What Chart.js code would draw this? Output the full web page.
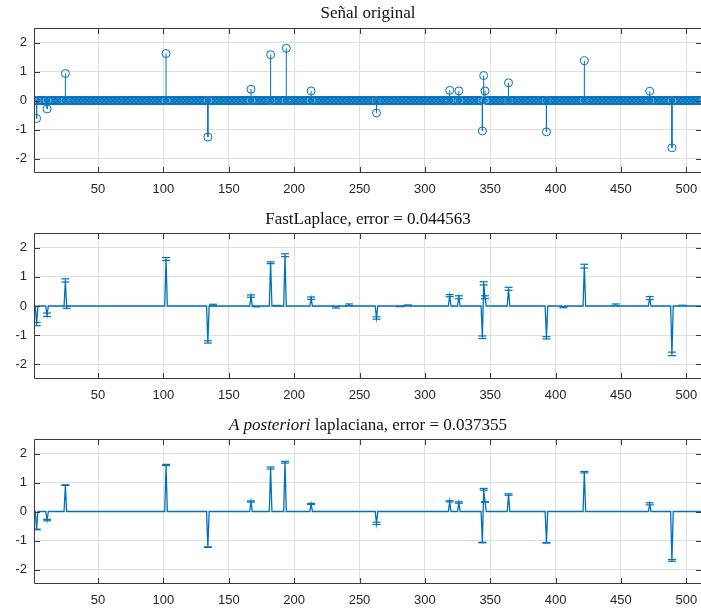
<!DOCTYPE html>
<html><head><meta charset="utf-8">
<script src="https://cdn.jsdelivr.net/npm/chart.js@4.4.0/dist/chart.umd.min.js"></script>
<style>
html,body{margin:0;padding:0;background:#fff;overflow:hidden;width:701px;height:611px;position:relative}
.wrap{position:absolute;left:0;width:712px}
canvas{display:block}
</style></head><body>
<div class="wrap" style="top:0px;height:200px"><canvas id="c1" width="712" height="200"></canvas></div>
<div class="wrap" style="top:200px;height:206px"><canvas id="c2" width="712" height="206"></canvas></div>
<div class="wrap" style="top:405px;height:206px"><canvas id="c3" width="712" height="206"></canvas></div>
<script>
// ---- data ----
const N = 512;
const xTicks = [50, 100, 150, 200, 250, 300, 350, 400, 450, 500];
const yTicks = [-2, -1, 0, 1, 2];

// original signal (non-zero entries)
const origIdx = [3, 11, 25, 102, 134, 167, 182, 194, 213, 263, 319, 326, 344, 345, 346, 364, 393, 422, 472, 489];
const origVal = [-0.62, -0.29, 0.93, 1.62, -1.26, 0.39, 1.58, 1.80, 0.33, -0.43, 0.35, 0.33, -1.05, 0.86, 0.33, 0.61, -1.08, 1.37, 0.32, -1.63];

// FastLaplace estimate
const flIdx = [3, 11, 25, 26, 102, 134, 138, 167, 171, 182, 187, 193, 213, 232, 242, 263, 281, 287, 319, 326, 344, 345, 346, 364, 393, 406, 422, 446, 472, 489, 497];
const flVal = [-0.62, -0.30, 0.875, -0.04, 1.61, -1.23, 0.03, 0.34, -0.02, 1.48, 0.015, 1.74, 0.27, -0.04, 0.04, -0.41, -0.015, 0.025, 0.355, 0.30, -1.07, 0.775, 0.30, 0.59, -1.09, -0.04, 1.365, 0.04, 0.27, -1.64, 0.02];
const flErr = [0.055, 0.06, 0.055, 0.04, 0.05, 0.04, 0.03, 0.04, 0.01, 0.03, 0.005, 0.05, 0.04, 0.03, 0.03, 0.04, 0.008, 0.01, 0.035, 0.05, 0.045, 0.055, 0.05, 0.05, 0.04, 0.02, 0.065, 0.03, 0.05, 0.06, 0.005];

// A posteriori laplaciana estimate
const apIdx = [3, 11, 25, 102, 134, 167, 182, 193, 213, 263, 319, 326, 344, 345, 346, 364, 393, 422, 472, 489];
const apVal = [-0.62, -0.295, 0.91, 1.605, -1.23, 0.345, 1.50, 1.70, 0.26, -0.41, 0.35, 0.31, -1.07, 0.765, 0.33, 0.585, -1.08, 1.355, 0.265, -1.685];
const apErr = [0.01, 0.025, 0.01, 0.02, 0.01, 0.02, 0.035, 0.03, 0.02, 0.04, 0.02, 0.025, 0.01, 0.03, 0.01, 0.025, 0.01, 0.025, 0.035, 0.03];

const titles = [
  [{t: 'Señal original', i: false}],
  [{t: 'FastLaplace, error = 0.044563', i: false}],
  [{t: 'A posteriori', i: true}, {t: ' laplaciana, error = 0.037355', i: false}]
];

// ---- helpers ----
const BLUE = '#0072BD';
function fullSignal(idx, val) {
  const a = new Array(N).fill(0);
  idx.forEach((k, i) => { a[k - 1] = val[i]; });
  return a.map((v, i) => ({x: i + 1, y: v}));
}
function stemData(idx, val) {
  const d = [];
  idx.forEach((k, i) => { d.push({x: k, y: 0}, {x: k, y: val[i]}, {x: k, y: null}); });
  return d;
}
function errLineData(idx, val, err) {
  const d = [];
  idx.forEach((k, i) => { d.push({x: k, y: val[i] - err[i]}, {x: k, y: val[i] + err[i]}, {x: k, y: null}); });
  return d;
}
function capData(idx, val, err) {
  const d = [];
  idx.forEach((k, i) => { d.push({x: k, y: val[i] - err[i]}, {x: k, y: val[i] + err[i]}); });
  return d;
}

const TICKFONT = {family: '"Liberation Sans", Arial, Helvetica, sans-serif', size: 13};
const TICKCOLOR = '#262626';
const GRID = 'rgb(223,223,223)';

const boxPlugin = {
  id: 'mbox',
  afterDraw(chart, args, opts) {
    const {ctx, chartArea: a, scales} = chart;
    ctx.save();
    ctx.strokeStyle = '#3a3a3a';
    ctx.lineWidth = 1;
    ctx.beginPath();
    ctx.rect(a.left + 0.5, a.top + 0.5, a.right - a.left - 1, a.bottom - a.top - 1);
    const L = 6;
    xTicks.forEach(v => {
      const p = Math.round(scales.x.getPixelForValue(v)) + 0.5;
      ctx.moveTo(p, a.bottom); ctx.lineTo(p, a.bottom - L);
      ctx.moveTo(p, a.top); ctx.lineTo(p, a.top + L);
    });
    yTicks.forEach(v => {
      const p = Math.round(scales.y.getPixelForValue(v)) + 0.5;
      ctx.moveTo(a.left, p); ctx.lineTo(a.left + L, p);
      ctx.moveTo(a.right, p); ctx.lineTo(a.right - L, p);
    });
    ctx.stroke();
    // title
    const parts = opts.parts || [];
    const size = 17;
    const fam = '"Liberation Serif", "Times New Roman", serif';
    let total = 0;
    parts.forEach(p => { ctx.font = (p.i ? 'italic ' : '') + size + 'px ' + fam; p.w = ctx.measureText(p.t).width; total += p.w; });
    let x = (a.left + a.right) / 2 - total / 2;
    ctx.fillStyle = '#111';
    ctx.textBaseline = 'middle';
    ctx.textAlign = 'left';
    parts.forEach(p => { ctx.font = (p.i ? 'italic ' : '') + size + 'px ' + fam; ctx.fillText(p.t, x, opts.y); x += p.w; });
    ctx.restore();
  }
};

function makeOptions(padTop, parts, titleY) {
  return {
    responsive: false,
    animation: false,
    events: [],
    layout: {padding: {top: padTop, right: 10, bottom: 0, left: 0}},
    plugins: {legend: {display: false}, tooltip: {enabled: false}, title: {display: false},
      mbox: {parts: parts, y: titleY}},
    scales: {
      x: {
        type: 'linear', min: 1, max: 512,
        afterBuildTicks: s => { s.ticks = xTicks.map(v => ({value: v})); },
        afterFit: s => { s.height = 27; },
        ticks: {font: TICKFONT, color: TICKCOLOR, padding: 9, maxRotation: 0, autoSkip: false},
        grid: {color: GRID, drawTicks: false, lineWidth: 1},
        border: {display: false}
      },
      y: {
        type: 'linear', min: -2.5, max: 2.5,
        afterBuildTicks: s => { s.ticks = yTicks.map(v => ({value: v})); },
        afterFit: s => { s.width = 34; },
        ticks: {font: TICKFONT, color: TICKCOLOR, padding: 7, autoSkip: false},
        grid: {color: GRID, drawTicks: false, lineWidth: 1},
        border: {display: false}
      }
    }
  };
}

// ---- chart 1: stem plot ----
new Chart(document.getElementById('c1'), {
  type: 'scatter',
  data: {datasets: [
    {data: fullSignal(origIdx, origVal), showLine: false, pointStyle: 'circle', pointRadius: 4,
     pointBorderWidth: 1, pointBorderColor: BLUE, pointBackgroundColor: 'rgba(0,0,0,0)'},
    {data: stemData(origIdx, origVal), showLine: true, spanGaps: false, borderColor: BLUE, borderWidth: 1,
     pointRadius: 0}
  ]},
  options: makeOptions(28, titles[0], 13.5),
  plugins: [boxPlugin]
});

function errChart(id, idx, val, err, padTop, parts, titleY) {
  new Chart(document.getElementById(id), {
    type: 'scatter',
    data: {datasets: [
      {data: capData(idx, val, err), showLine: false, pointStyle: 'line', pointRadius: 4,
       pointBorderWidth: 1.2, pointBorderColor: BLUE},
      {data: errLineData(idx, val, err), showLine: true, spanGaps: false, borderColor: BLUE, borderWidth: 1, pointRadius: 0},
      {data: fullSignal(idx, val), showLine: true, borderColor: BLUE, borderWidth: 1.3, pointRadius: 0, tension: 0}
    ]},
    options: makeOptions(padTop, parts, titleY),
    plugins: [boxPlugin]
  });
}
errChart('c2', flIdx, flVal, flErr, 33, titles[1], 20);
errChart('c3', apIdx, apVal, apErr, 34, titles[2], 21);
</script>
</body></html>
